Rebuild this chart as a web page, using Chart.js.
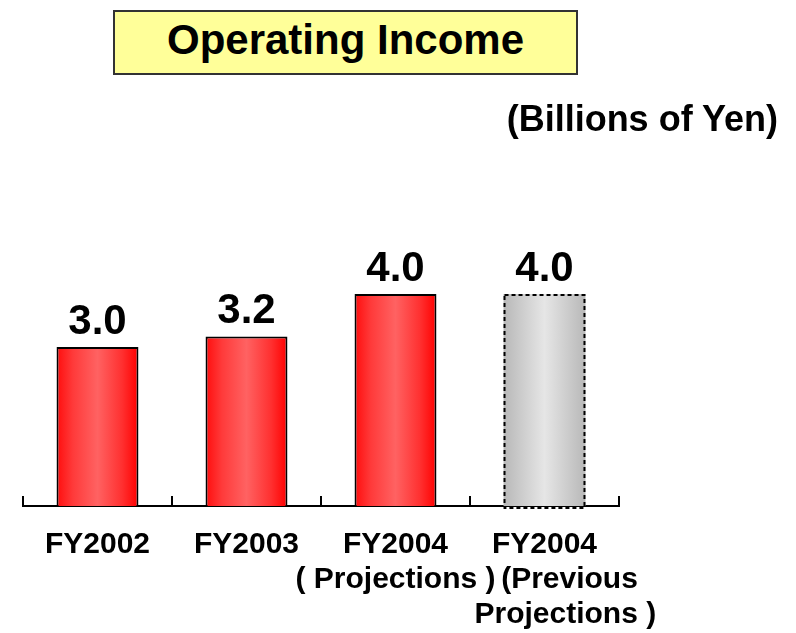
<!DOCTYPE html>
<html>
<head>
<meta charset="utf-8">
<script src="https://cdn.jsdelivr.net/npm/chart.js@4"></script>
<style>
html,body{margin:0;padding:0;background:#fff;}
#wrap{position:relative;width:796px;height:633px;overflow:hidden;}
canvas{position:absolute;left:0;top:0;}
#title{position:absolute;left:113px;top:10px;width:465px;height:65px;box-sizing:border-box;border:2px solid #333;background:#ffff99;font:bold 42px "Liberation Sans",Arial,sans-serif;text-align:center;line-height:55px;color:#000;white-space:nowrap;}
#unit{position:absolute;right:18px;top:101px;font:bold 36px "Liberation Sans",Arial,sans-serif;line-height:36px;color:#000;white-space:nowrap;}
</style>
</head>
<body>
<div id="wrap">
<canvas id="c" width="796" height="633"></canvas>
<div id="title">Operating Income</div>
<div id="unit">(Billions of Yen)</div>
</div>
<script>
const categories = [
  ['FY2002'],
  ['FY2003'],
  ['FY2004', '( Projections )'],
  ['FY2004', '(Previous', 'Projections )']
];
const values = [3.0, 3.2, 4.0, 4.0];
const barKinds = ['actual', 'actual', 'actual', 'previous'];
const yMin = 0;
const yMax = 6;

const FONT = '"Liberation Sans", Arial, sans-serif';
const BAR_PCT = 0.55;

function barFill(c) {
  if (c.type !== 'data') return '#ff3333';
  const chart = c.chart;
  const xs = chart.scales.x;
  const kind = barKinds[c.dataIndex];
  if (!xs || !xs.width) return kind === 'previous' ? '#d0d0d0' : '#ff3333';
  const cx = xs.getPixelForValue(c.dataIndex);
  const half = xs.width / categories.length * BAR_PCT / 2;
  const g = chart.ctx.createLinearGradient(cx - half, 0, cx + half, 0);
  if (kind === 'previous') {
    g.addColorStop(0, '#b8b8b8');
    g.addColorStop(0.5, '#e6e6e6');
    g.addColorStop(1, '#b8b8b8');
  } else {
    g.addColorStop(0, '#ff0d0d');
    g.addColorStop(0.2, '#ff3a3a');
    g.addColorStop(0.5, '#ff6262');
    g.addColorStop(0.8, '#ff3030');
    g.addColorStop(1, '#ff0000');
  }
  return g;
}

const valueLabels = {
  id: 'valueLabels',
  afterDatasetsDraw(chart) {
    const meta = chart.getDatasetMeta(0);
    const ctx = chart.ctx;
    ctx.save();
    ctx.font = 'bold 42px ' + FONT;
    ctx.fillStyle = '#000';
    ctx.textAlign = 'center';
    ctx.textBaseline = 'alphabetic';
    meta.data.forEach((bar, i) => {
      ctx.fillText(values[i].toFixed(1), bar.x, bar.y - 13);
    });
    ctx.restore();
  }
};

const dashedBorder = {
  id: 'dashedBorder',
  afterDatasetsDraw(chart) {
    const meta = chart.getDatasetMeta(0);
    const ctx = chart.ctx;
    ctx.save();
    ctx.strokeStyle = '#000';
    ctx.lineWidth = 2;
    ctx.setLineDash([4, 3]);
    meta.data.forEach((bar, i) => {
      if (barKinds[i] !== 'previous') return;
      const left = bar.x - bar.width / 2;
      ctx.strokeRect(left + 1, bar.y + 1, bar.width - 2, bar.base - bar.y + 1);
    });
    ctx.restore();
  }
};

new Chart(document.getElementById('c'), {
  type: 'bar',
  data: {
    labels: categories,
    datasets: [{
      data: values,
      backgroundColor: barFill,
      borderColor: c => barKinds[c.dataIndex] === 'previous' ? 'rgba(0,0,0,0)' : '#000',
      borderWidth: c => barKinds[c.dataIndex] === 'previous' ? 0 : 2,
      barPercentage: BAR_PCT,
      categoryPercentage: 1
    }]
  },
  options: {
    responsive: false,
    animation: false,
    devicePixelRatio: 1,
    layout: { padding: { top: 188, left: 23, right: 177, bottom: 0 } },
    plugins: { legend: { display: false }, tooltip: { enabled: false }, title: { display: false } },
    scales: {
      x: {
        offset: true,
        grid: { display: true, drawOnChartArea: false, drawTicks: true, tickLength: -10, color: '#000', lineWidth: 2, offset: true },
        border: { display: true, color: '#000', width: 2 },
        ticks: {
          color: '#000',
          autoSkip: false,
          maxRotation: 0,
          padding: 31,
          font: { family: FONT, size: 30, weight: 'bold', lineHeight: 1.167 },
          callback: function (v, i) {
            const lines = categories[i];
            if (barKinds[i] === 'previous') {
              const pad = ['', '      ', '     '];
              return lines.map((l, j) => (pad[j] || '') + l);
            }
            return lines;
          }
        },
        afterFit: s => { s.height = 127; }
      },
      y: { display: false, min: yMin, max: yMax }
    }
  },
  plugins: [valueLabels, dashedBorder]
});
</script>
</body>
</html>
